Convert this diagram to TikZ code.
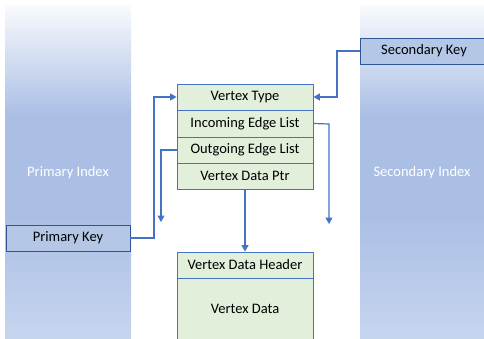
\documentclass[tikz,border=0pt]{standalone}
\usepackage{fontspec}
\setmainfont{Carlito}
\usetikzlibrary{arrows.meta}

\definecolor{arrowblue}{HTML}{4472C4}
\definecolor{keyborder}{HTML}{2F5597}
\definecolor{keyfill}{HTML}{B4C7E7}
\definecolor{cellfill}{HTML}{E2EFDA}
\definecolor{idxtop}{HTML}{F8FAFD}
\definecolor{idxmid}{HTML}{ABBFE5}
\definecolor{idxbot}{HTML}{C8D6EF}

% column gradient: pale at the top, solid blue in the middle, lighter at the foot
\pgfdeclareverticalshading{indexcol}{100bp}{%
  color(0bp)=(idxbot); color(25bp)=(idxbot); color(44bp)=(idxmid);
  color(59bp)=(idxmid); color(75bp)=(idxtop); color(100bp)=(idxtop)}

\newcommand\boxfont{\fontsize{14.5}{17}\selectfont}

\tikzset{
  cell/.style={draw=arrowblue, line width=0.9pt, fill=cellfill,
    minimum width=136pt, inner sep=0pt, font=\boxfont},
  keybox/.style={draw=keyborder, line width=0.9pt, fill=keyfill,
    minimum width=124pt, minimum height=26pt, inner sep=0pt, font=\boxfont},
  idxlabel/.style={text=white, font=\boxfont},
  link/.style={draw=arrowblue, line width=1.2pt},
  arr/.style={link, -{Triangle[width=7pt,length=6.5pt]}}
}

\begin{document}
\begin{tikzpicture}[x=1pt,y=-1pt]
\useasboundingbox (0,0) rectangle (484,339);
\clip (0,0) rectangle (484,339);

% index columns
\shade[shading=indexcol] (5,6) rectangle (131,345);
\shade[shading=indexcol] (360,6) rectangle (490,345);
\node[idxlabel] (pidx) at (68,173) {Primary Index};
\node[idxlabel] (sidx) at (422,173) {Secondary Index};

% keys
\node[keybox] (pk) at (68,238) {Primary Key};
\node[keybox, minimum width=128pt] (sk) at (424,51) {Secondary Key};

% vertex record
\node[cell, minimum height=26pt] (vt) at (245,97) {Vertex Type};
\node[cell, minimum height=27pt] (ie) at (245,123.5) {Incoming Edge List};
\node[cell, minimum height=26pt] (oe) at (245,150) {Outgoing Edge List};
\node[cell, minimum height=26pt] (vp) at (245,176) {Vertex Data Ptr};

% vertex data block
\node[cell, minimum height=26pt] (dh) at (245,265) {Vertex Data Header};
\node[cell, minimum height=70pt] (vd) at (245,313) {};
\node[font=\boxfont] (vdl) at (245,309) {Vertex Data};

% connectors
\coordinate (pj) at (154,238);
\coordinate (oj) at (161,150);
\coordinate (oend) at (161,222);
\coordinate (sj) at (337,51);
\coordinate (ij) at (329,124);
\coordinate (iend) at (329,224);

\draw[arr] (pk.east) -- (pj) |- (vt.west);
\draw[arr] (oe.west) -- (oj) -- (oend);
\draw[arr] (sk.west) -- (sj) |- (vt.east);
\draw[arr] (ie.east) -- (ij) -- (iend);
\draw[arr] (vp.south) -- (dh.north);
\end{tikzpicture}
\end{document}
